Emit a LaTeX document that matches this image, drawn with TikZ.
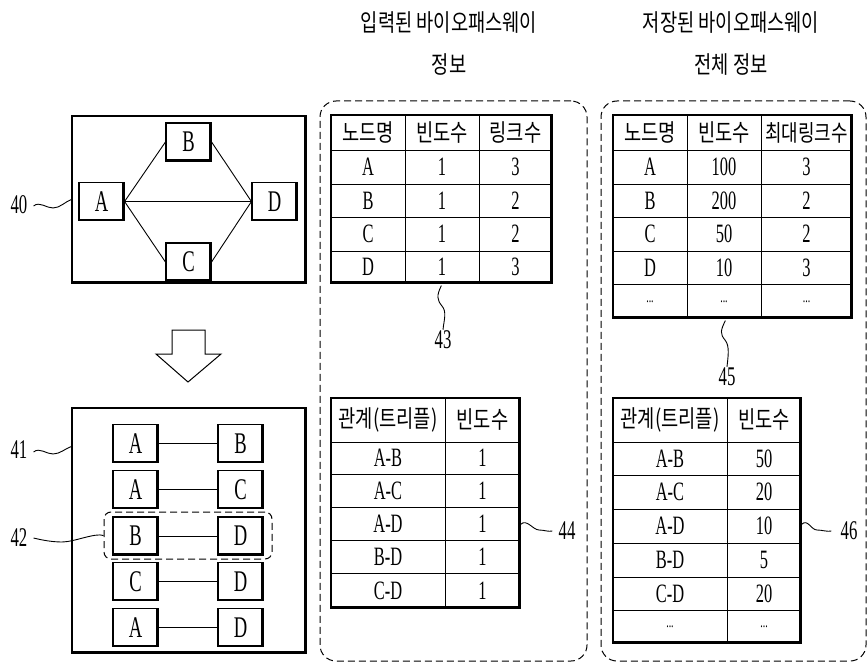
\documentclass[tikz,border=0pt]{standalone}
\usepackage{fontspec}
\setmainfont{Liberation Serif}[FakeStretch=0.62]
\newfontfamily\kr{Noto Sans CJK KR}[FakeStretch=0.78]
\usetikzlibrary{calc}
\tikzset{
 lbl/.style={inner sep=1pt, font=\fontsize{27}{29}\selectfont},
 cell/.style={inner sep=0pt, font=\fontsize{26.5}{28}\selectfont},
 hcell/.style={inner sep=0pt, font=\kr\fontsize{24}{26}\selectfont},
 dots/.style={inner sep=0pt, font=\fontsize{16}{16}\selectfont},
 shadowed/.style={path picture={\draw[line width=4pt] (path picture bounding box.south west) -- (path picture bounding box.south east) -- (path picture bounding box.north east);}},
 gbox/.style={draw, line width=1.1pt, minimum width=45pt, minimum height=38pt, inner sep=0pt, font=\fontsize{30}{32}\selectfont, shadowed},
 frame/.style={draw, line width=1.1pt, inner sep=0pt, shadowed},
 tbl/.style={draw, line width=1.3pt, inner sep=0pt, shadowed},
 gridline/.style={line width=0.9pt},
 edge/.style={line width=0.9pt},
 wave/.style={line width=0.9pt},
 dbox/.style={draw, dashed, dash pattern=on 7pt off 4pt, line width=1pt, rounded corners=16pt, inner sep=0pt},
 title/.style={align=center, font=\kr\fontsize{24}{42}\selectfont},
}
\begin{document}
\begin{tikzpicture}[x=1pt, y=-1pt]
\useasboundingbox (0,0) rectangle (867,663);

% titles
\node[title] (tt1) at (449,44) {입력된 바이오패스웨이\\정보};
\node[title] (tt2) at (731,44) {저장된 바이오패스웨이\\전체 정보};

% dashed containers
\node[dbox, minimum width=267pt, minimum height=560pt] (d1) at (453.5,381) {};
\node[dbox, minimum width=265pt, minimum height=560pt] (d2) at (733.5,381) {};

% ---- graph 40
\node[frame, minimum width=234pt, minimum height=167pt] (g40) at (189,199.5) {};
\node[gbox] (nA) at (101.5,201.5) {A};
\node[gbox] (nB) at (188.5,142) {B};
\node[gbox] (nC) at (188.5,262) {C};
\node[gbox] (nD) at (274.5,201.5) {D};
\draw[edge] (nA.east) -- (nB.west);
\draw[edge] (nB.east) -- (nD.west);
\draw[edge] (nA.east) -- (nD.west);
\draw[edge] (nA.east) -- (nC.west);
\draw[edge] (nC.east) -- (nD.west);

\node[lbl] (l40) at (19,205) {40};
\coordinate (w40) at (53,208);
\draw[wave] ($(l40.east)+(5,1)$) .. controls +(6,-5) and +(-7,0) .. (w40) .. controls +(7,0) and +(-6,2) .. (g40.west);

% hollow arrow
\draw[line width=1pt, line join=miter] (172,330) -- (205,330) -- (205,354) -- (221,354) -- (188,382) -- (156,354) -- (172,354) -- cycle;

% ---- pairs 41
\node[frame, minimum width=234pt, minimum height=245pt] (g41) at (189,530.5) {};
\foreach \i/\a/\b/\y in {1/A/B/443.5, 2/A/C/489.5, 3/B/D/536, 4/C/D/581.5, 5/A/D/627.5}{
  \node[gbox] (p\i a) at (135.5,\y) {\a};
  \node[gbox] (p\i b) at (240.5,\y) {\b};
  \draw[edge] (p\i a.east) -- (p\i b.west);
}
\node[draw, dashed, dash pattern=on 7pt off 4pt, line width=1pt, rounded corners=7pt, minimum width=168pt, minimum height=47pt] (d42) at (188,535.5) {};

\node[lbl] (l41) at (19,450) {41};
\coordinate (w41) at (53,454);
\draw[wave] ($(l41.east)+(5,2)$) .. controls +(6,-5) and +(-7,0) .. (w41) .. controls +(7,0) and +(-6,2) .. ($(g41.north west)+(0,39)$);

\node[lbl] (l42) at (19,538) {42};
\coordinate (w42) at (62,542);
\draw[wave] ($(l42.east)+(5,0)$) .. controls +(8,2) and +(-10,0) .. (w42) .. controls +(12,0) and +(-8,-3) .. (d42.west);

% ---- table 43
\node[tbl, minimum width=221pt, minimum height=168pt] (t43) at (441.5,199) {};
\foreach \y in {150,184,217,251} \draw[gridline] (331,\y) -- (552,\y);
\foreach \x in {405,479} \draw[gridline] (\x,115) -- (\x,283);
\node[hcell] (h43a) at (368,132.5) {노드명};
\node[hcell] (h43b) at (442,132.5) {빈도수};
\node[hcell] (h43c) at (515.5,132.5) {링크수};
\foreach \r/\a/\b/\c/\y in {1/A/1/3/167, 2/B/1/2/200.5, 3/C/1/2/234, 4/D/1/3/267}{
  \node[cell] (c43-\r-1) at (368,\y) {\a};
  \node[cell] (c43-\r-2) at (442,\y) {\b};
  \node[cell] (c43-\r-3) at (515.5,\y) {\c};
}
\node[lbl] (l43) at (443,340) {43};
\coordinate (w43) at (442,306);
\draw[wave] ($(t43.south west)+(111,2)$) .. controls +(-5,10) and +(-5,-6) .. (w43) .. controls +(5,6) and +(1,-10) .. (l43.north);

% ---- table 45
\node[tbl, minimum width=239pt, minimum height=203pt] (t45) at (732.5,216.5) {};
\foreach \y in {150,184,217,251,284} \draw[gridline] (613,\y) -- (852,\y);
\foreach \x in {687,761} \draw[gridline] (\x,115) -- (\x,318);
\node[hcell] (h45a) at (650,132.5) {노드명};
\node[hcell] (h45b) at (724,132.5) {빈도수};
\node[hcell, font=\kr\fontsize{23}{25}\selectfont] (h45c) at (806.5,132.5) {최대링크수};
\foreach \r/\a/\b/\c/\y in {1/A/100/3/167, 2/B/200/2/200.5, 3/C/50/2/234, 4/D/10/3/267.5}{
  \node[cell] (c45-\r-1) at (650,\y) {\a};
  \node[cell] (c45-\r-2) at (724,\y) {\b};
  \node[cell] (c45-\r-3) at (806.5,\y) {\c};
}
\node[dots] (c45-5-1) at (650,302) {...};
\node[dots] (c45-5-2) at (724,302) {...};
\node[dots] (c45-5-3) at (806.5,302) {...};
\node[lbl] (l45) at (727,377) {45};
\coordinate (w45) at (725,340);
\draw[wave] ($(t45.south west)+(113,2)$) .. controls +(-5,10) and +(-5,-6) .. (w45) .. controls +(5,6) and +(1,-10) .. (l45.north);

% ---- table 44
\node[tbl, minimum width=189pt, minimum height=210pt] (t44) at (425.5,503) {};
\foreach \y in {442,474,507,540,573} \draw[gridline] (331,\y) -- (520,\y);
\draw[gridline] (445,398) -- (445,608);
\node[hcell] (h44a) at (388,420) {관계(트리플)};
\node[hcell] (h44b) at (482.5,420) {빈도수};
\foreach \r/\a/\b/\y in {1/A-B/1/458, 2/A-C/1/490.5, 3/A-D/1/523.5, 4/B-D/1/556.5, 5/C-D/1/590.5}{
  \node[cell] (c44-\r-1) at (388,\y) {\a};
  \node[cell] (c44-\r-2) at (482.5,\y) {\b};
}
\node[lbl] (l44) at (567,531) {44};
\coordinate (w44) at (539,530);
\draw[wave] ($(t44.north east)+(0,127)$) .. controls +(6,-6) and +(-6,0) .. (w44) .. controls +(5,0) and +(-4,1) .. ($(l44.west)+(-5,0)$);

% ---- table 46
\node[tbl, minimum width=188pt, minimum height=245pt] (t46) at (707,520.5) {};
\foreach \y in {442,475,509,543,577,610} \draw[gridline] (613,\y) -- (801,\y);
\draw[gridline] (727,398) -- (727,643);
\node[hcell] (h46a) at (670,420) {관계(트리플)};
\node[hcell] (h46b) at (764,420) {빈도수};
\foreach \r/\a/\b/\y in {1/A-B/50/458.5, 2/A-C/20/492, 3/A-D/10/526, 4/B-D/5/560, 5/C-D/20/593.5}{
  \node[cell] (c46-\r-1) at (670,\y) {\a};
  \node[cell] (c46-\r-2) at (764,\y) {\b};
}
\node[dots] (c46-6-1) at (670,627) {...};
\node[dots] (c46-6-2) at (764,627) {...};
\node[lbl] (l46) at (849,531) {46};
\coordinate (w46) at (817,530);
\draw[wave] ($(t46.north east)+(0,127)$) .. controls +(6,-6) and +(-6,0) .. (w46) .. controls +(5,0) and +(-4,1) .. ($(l46.west)+(-8,0)$);
\end{tikzpicture}
\end{document}
